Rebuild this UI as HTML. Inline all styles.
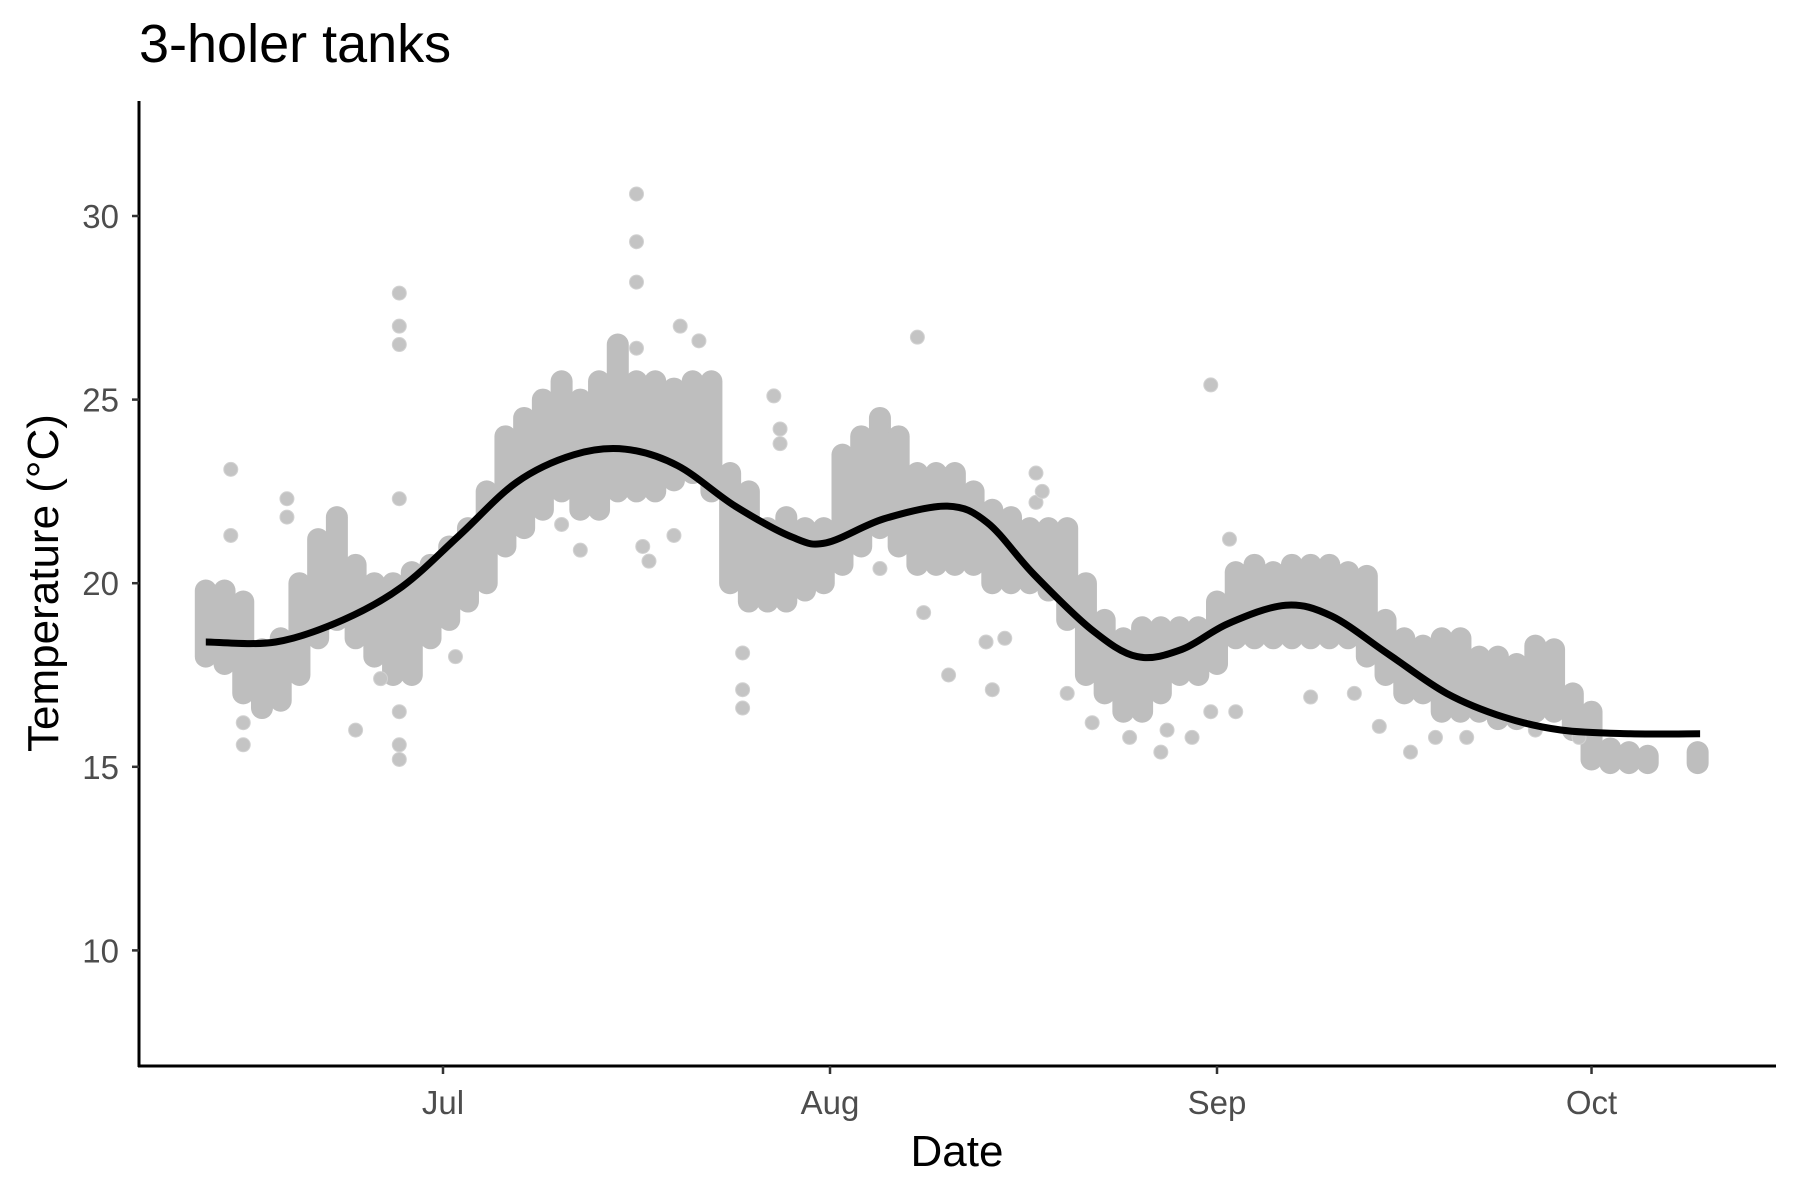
<!DOCTYPE html>
<html><head><meta charset="utf-8"><style>
body{margin:0;background:#fff;}
svg{display:block;font-family:"Liberation Sans",sans-serif;}
</style></head><body>
<svg id="chart" width="1800" height="1200" viewBox="0 0 1800 1200">
<text x="139" y="62" font-size="54" fill="#000">3-holer tanks</text>
<g id="marks"></g>
<line x1="139" y1="101" x2="139" y2="1067" stroke="#000" stroke-width="3"/>
<line x1="138" y1="1066" x2="1776" y2="1066" stroke="#000" stroke-width="3"/>
<g id="axes"></g>
<text x="957" y="1166" font-size="44" text-anchor="middle">Date</text>
<text transform="translate(58,583) rotate(-90)" font-size="44" text-anchor="middle">Temperature (°C)</text>
</svg>
<script>
// day offset from Jun 1
const rangeDays=[11,12.5,14,15.5,17,18.5,20,21.5,23,24.5,26,27.5,29,30.5,32,33.5,35,36.5,38,39.5,41,42.5,44,45.5,47,48.5,50,51.5,53,54.5,56,57.5,59,60.5,62,63.5,65,66.5,68,69.5,71,72.5,74,75.5,77,78.5,80,81.5,83,84.5,86,87.5,89,90.5,92,93.5,95,96.5,98,99.5,101,102.5,104,105.5,107,108.5,110,111.5,113,114.5,116,117.5,119,120.5,122,123.5,125,126.5,130.5];
const rangeLow=[18,17.8,17,16.6,16.8,17.5,18.5,19,18.5,18,17.5,17.5,18.5,19,19.5,20,21,21.5,22,22.5,22,22,22.5,22.5,22.5,22.8,23,22.5,20,19.5,19.5,19.5,19.8,20,20.5,21,21.5,21,20.5,20.5,20.5,20.5,20,20,20,19.8,19,17.5,17,16.5,16.5,17,17.5,17.5,17.8,18.5,18.5,18.5,18.5,18.5,18.5,18.5,18,17.5,17,17,16.5,16.5,16.5,16.3,16.3,16.5,16.5,16,15.2,15.1,15.1,15.1,15.1];
const rangeHigh=[19.8,19.8,19.5,18.2,18.5,20,21.2,21.8,20.5,20,20,20.3,20.5,21,21.5,22.5,24,24.5,25,25.5,25,25.5,26.5,25.5,25.5,25.3,25.5,25.5,23,22.5,21.5,21.8,21.5,21.5,23.5,24,24.5,24,23,23,23,22.5,22,21.8,21.5,21.5,21.5,20,19,18.5,18.8,18.8,18.8,18.8,19.5,20.3,20.5,20.3,20.5,20.5,20.5,20.3,20.2,19,18.5,18.3,18.5,18.5,18,18,17.8,18.3,18.2,17,16.5,15.5,15.4,15.3,15.4];
const outlierDays=[14,14,13,13,17.5,17.5,26.5,26.5,26.5,26.5,26.5,26.5,26.5,23,25,31,39.5,41,45.5,45.5,45.5,45.5,46,46.5,49,50.5,48.5,54,54,54,56.5,57,57,65,68,70.5,68.5,73.5,74,75,77.5,77.5,78,80,82,85,87.5,88,90,91.5,91.5,93.5,93,99.5,103,105,107.5,109.5,112,117.5,121];
const outlierTemps=[15.6,16.2,23.1,21.3,22.3,21.8,27.9,27,26.5,22.3,15.2,15.6,16.5,16,17.4,18,21.6,20.9,30.6,29.3,28.2,26.4,21,20.6,27,26.6,21.3,16.6,17.1,18.1,25.1,24.2,23.8,20.4,26.7,17.5,19.2,18.4,17.1,18.5,23,22.2,22.5,17,16.2,15.8,15.4,16,15.8,25.4,16.5,16.5,21.2,16.9,17,16.1,15.4,15.8,15.8,16,15.8];
const smoothDays=[11,16.6,22,26.7,31.3,35.9,40.5,44.6,48.8,53.4,58,60.7,65.3,70.4,73.6,77.3,81.9,85.6,89.2,92.9,97.5,101.2,105.8,110.4,115,119.6,125.1,130.7];
const smoothTemps=[18.4,18.4,19.0,19.9,21.3,22.75,23.5,23.65,23.2,22.1,21.25,21.1,21.75,22.1,21.65,20.25,18.75,18.0,18.2,18.9,19.4,19.1,18.05,17.0,16.35,16.0,15.9,15.9];
const yTicks=[10,15,20,25,30];
const xTickDays=[30,61,92,122];
const xTickLabels=["Jul","Aug","Sep","Oct"];

const NS="http://www.w3.org/2000/svg";
const xs=d=>443+(d-30)*12.484;
const ys=t=>216+(30-t)*36.72;
const marks=document.getElementById('marks');
const axes=document.getElementById('axes');
function mk(tag,attrs,parent){const e=document.createElementNS(NS,tag);for(const k in attrs)e.setAttribute(k,attrs[k]);parent.appendChild(e);return e;}

rangeDays.forEach((d,i)=>{
  const el=mk('line',{x1:xs(d),x2:xs(d),y1:ys(rangeLow[i]),y2:ys(rangeHigh[i]),stroke:'#bebebe','stroke-width':22,'stroke-linecap':'round'},marks);
  
  
});
outlierDays.forEach((d,i)=>{
  const el=mk('circle',{cx:xs(d),cy:ys(outlierTemps[i]),r:7,fill:'#c4c4c4',stroke:'#d2d2d2','stroke-width':1},marks);
  
  
});
const P=smoothDays.map((d,i)=>[xs(d),ys(smoothTemps[i])]);
let p='M'+P[0][0].toFixed(1)+','+P[0][1].toFixed(1);
for(let i=0;i<P.length-1;i++){
  const p0=P[Math.max(i-1,0)],p1=P[i],p2=P[i+1],p3=P[Math.min(i+2,P.length-1)];
  const c1=[p1[0]+(p2[0]-p0[0])/6,p1[1]+(p2[1]-p0[1])/6];
  const c2=[p2[0]-(p3[0]-p1[0])/6,p2[1]-(p3[1]-p1[1])/6];
  p+='C'+c1.map(v=>v.toFixed(1)).join(',')+' '+c2.map(v=>v.toFixed(1)).join(',')+' '+p2.map(v=>v.toFixed(1)).join(',');
}
const sl=mk('path',{d:p,fill:'none',stroke:'#000','stroke-width':7,'stroke-linejoin':'round'},marks);



yTicks.forEach(t=>{
  const tk=mk('line',{x1:132,x2:139,y1:ys(t),y2:ys(t),stroke:'#333','stroke-width':2.5},axes);
  
  
  const lb=mk('text',{x:119,y:ys(t)+12,'font-size':33,'text-anchor':'end',fill:'#4d4d4d'},axes);
  lb.textContent=t;
  
  
});
xTickDays.forEach((d,i)=>{
  const tk=mk('line',{x1:xs(d),x2:xs(d),y1:1066,y2:1074,stroke:'#333','stroke-width':2.5},axes);
  
  
  const lb=mk('text',{x:xs(d),y:1114,'font-size':33,'text-anchor':'middle',fill:'#4d4d4d'},axes);
  lb.textContent=xTickLabels[i];
  
  
});
</script>
</body></html>
